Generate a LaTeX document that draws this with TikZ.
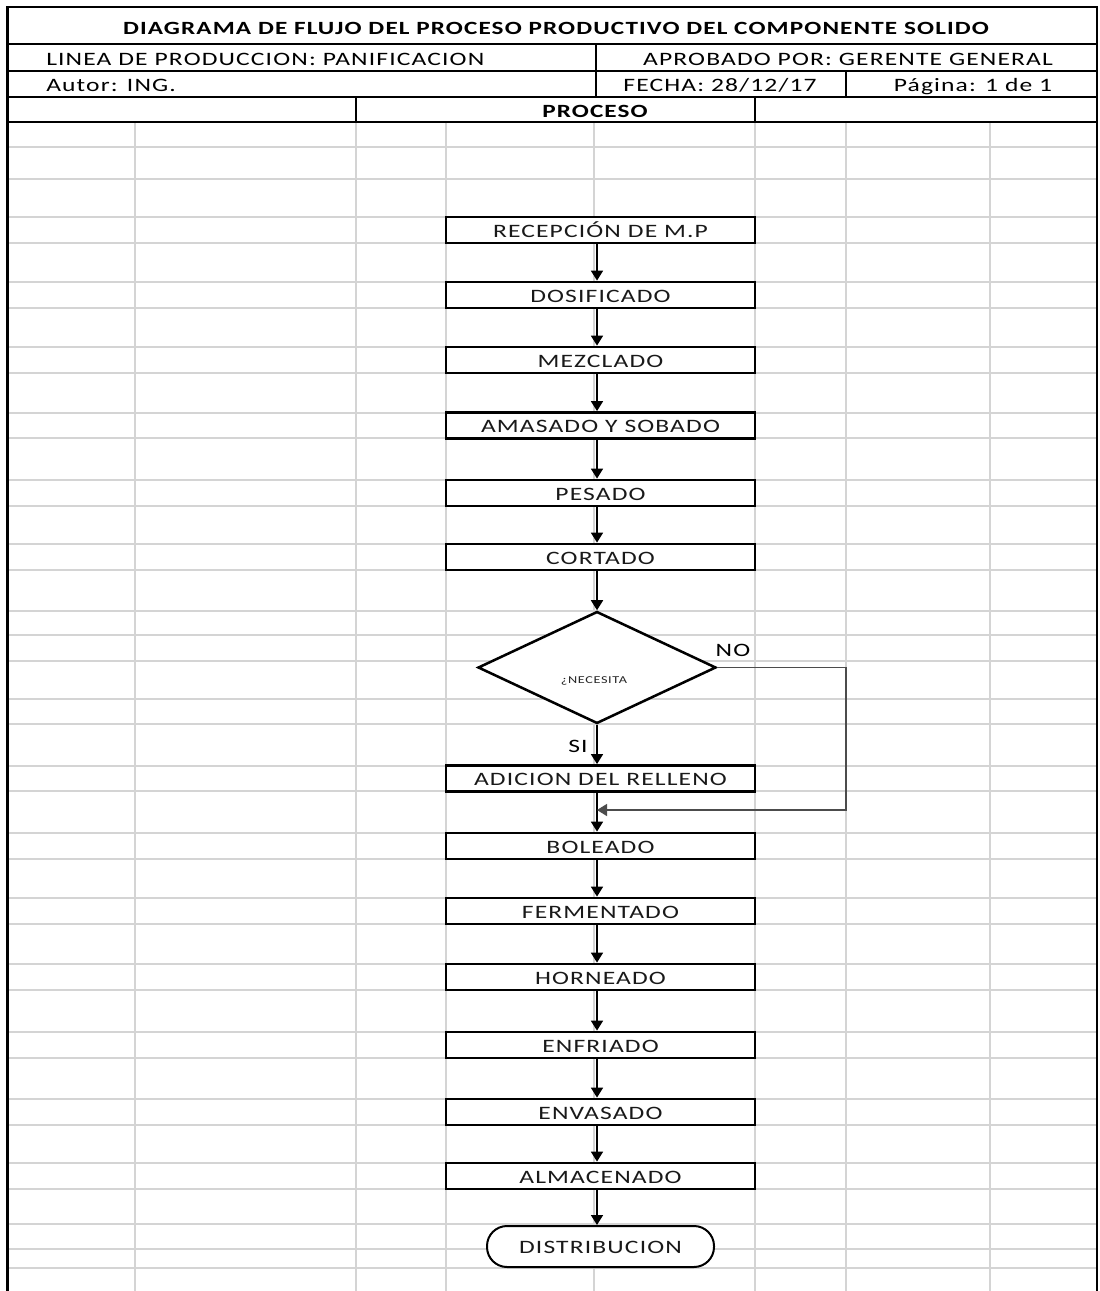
\documentclass[tikz,border=0pt]{standalone}
\usepackage{fontspec}
\setmainfont{Carlito}
\newfontfamily\sheetfont[FakeStretch=1.35,LetterSpace=6]{Carlito}
\newcommand\cellfont{\sheetfont\fontsize{14.2pt}{16pt}\selectfont}
\newcommand\titlefont{\sheetfont\fontsize{14pt}{16pt}\selectfont\bfseries}
\newcommand\tinyfont{\sheetfont\fontsize{7.9pt}{9pt}\selectfont}
\usetikzlibrary{arrows.meta,shapes.geometric}

\tikzset{
  gridline/.style={draw=black!17, line width=1.1pt},
  frameline/.style={draw=black, line width=1.6pt},
  celltext/.style={inner sep=0pt, font=\cellfont, text height=11pt, text depth=0pt},
  stepbox/.style={draw, line width=2.1pt, fill=white, minimum width=231.75pt,
    minimum height=19.5pt, inner sep=0pt, font=\cellfont, text=black!90,
    text height=11pt, text depth=0pt},
  decision/.style={draw, diamond, line width=1.9pt, fill=white,
    minimum width=178.5pt, minimum height=84pt, inner sep=0pt},
  terminal/.style={draw, line width=1.5pt, fill=white, rounded corners=15pt,
    minimum width=170.25pt, minimum height=30.75pt, inner sep=0pt,
    font=\cellfont, text=black!90, text height=11pt, text depth=0pt},
  flow/.style={draw=black, line width=1.3pt, -{Triangle[width=9pt,length=7.5pt]}},
  loopline/.style={draw=black!70, line width=1.1pt, -{Triangle[width=9pt,length=7.5pt]}},
}

\begin{document}
\begin{tikzpicture}[x=0.75pt,y=-0.75pt]
\useasboundingbox (0,0) rectangle (1099,1291);
\fill[white] (0,0) rectangle (1099,1291);

% spreadsheet grid
\foreach \yy in {147,179,217,243,282,308,347,373,413,438,480,506,544,570,611,635,661,
                 699,724,766,791,833,859,898,924,964,990,1032,1058,1099,1125,1163,
                 1189,1224,1249,1268}
  \draw[gridline] (8,\yy) -- (1097,\yy);
\foreach \xx in {135,356,446,594,755,846,990}
  \draw[gridline] (\xx,122) -- (\xx,1291);

% header frame
\draw[frameline] (7.5,1291) -- (7.5,7) -- (1097,7) -- (1097,1291);
\draw[frameline] (7.5,44) -- (1097,44);
\draw[frameline] (7.5,71) -- (1097,71);
\draw[frameline] (7.5,97) -- (1097,97);
\draw[draw=black, line width=2.2pt] (7.5,122) -- (1097,122);
\draw[frameline] (596,44) -- (596,97);
\draw[frameline] (846,71) -- (846,97);
\draw[frameline] (356,97) -- (356,122);
\draw[frameline] (755,97) -- (755,122);

% header texts
\node[celltext, font=\titlefont] (title) at (556,27)
  {DIAGRAMA DE FLUJO DEL PROCESO PRODUCTIVO DEL COMPONENTE SOLIDO};
\node[celltext, anchor=west] (linea) at (46,58.5) {LINEA DE PRODUCCION: PANIFICACION};
\node[celltext] (aprob) at (848,58.5) {APROBADO POR: GERENTE GENERAL};
\node[celltext, anchor=west] (autor) at (46,84.5) {Autor: ING.};
\node[celltext] (fecha) at (720,84.5) {FECHA: 28/12/17};
\node[celltext] (pagina) at (973,84.5) {Página: 1 de 1};
\node[celltext, font=\titlefont] (proceso) at (595,110) {PROCESO};

% flow steps
\coordinate (ax) at (597,0);
\node[stepbox] (b1) at (600.5,230) {RECEPCIÓN DE M.P};
\node[stepbox] (b2) at (600.5,295) {DOSIFICADO};
\node[stepbox] (b3) at (600.5,360) {MEZCLADO};
\node[stepbox] (b4) at (600.5,425.5) {AMASADO Y SOBADO};
\node[stepbox] (b5) at (600.5,493) {PESADO};
\node[stepbox] (b6) at (600.5,557) {CORTADO};
\node[decision] (dec) at (597,667.5) {};
\node[inner sep=0pt, font=\tinyfont, text=black!85] (dectxt) at (594,681) {¿NECESITA};
\node[stepbox] (b7) at (600.5,778.5) {ADICION DEL RELLENO};
\node[stepbox] (b8) at (600.5,846) {BOLEADO};
\node[stepbox] (b9) at (600.5,911) {FERMENTADO};
\node[stepbox] (b10) at (600.5,977) {HORNEADO};
\node[stepbox] (b11) at (600.5,1045) {ENFRIADO};
\node[stepbox] (b12) at (600.5,1112) {ENVASADO};
\node[stepbox] (b13) at (600.5,1176) {ALMACENADO};
\node[terminal] (term) at (600.5,1246.5) {DISTRIBUCION};

% branch labels
\node[celltext] (lblsi) at (578,745) {SI};
\node[celltext] (lblno) at (733,649) {NO};

% connectors
\draw[flow] (b1.south -| ax) -- (b2.north -| ax);
\draw[flow] (b2.south -| ax) -- (b3.north -| ax);
\draw[flow] (b3.south -| ax) -- (b4.north -| ax);
\draw[flow] (b4.south -| ax) -- (b5.north -| ax);
\draw[flow] (b5.south -| ax) -- (b6.north -| ax);
\draw[flow] (b6.south -| ax) -- (dec.north);
\draw[flow] (dec.south) -- (b7.north -| ax);
\draw[flow] (b7.south -| ax) -- (b8.north -| ax);
\draw[flow] (b8.south -| ax) -- (b9.north -| ax);
\draw[flow] (b9.south -| ax) -- (b10.north -| ax);
\draw[flow] (b10.south -| ax) -- (b11.north -| ax);
\draw[flow] (b11.south -| ax) -- (b12.north -| ax);
\draw[flow] (b12.south -| ax) -- (b13.north -| ax);
\draw[flow] (b13.south -| ax) -- (term.north -| ax);

% bypass when no filling is needed
\coordinate (merge) at (597,810);
\coordinate (nocol) at (846,0);
\draw[loopline] (dec.east) -| (nocol |- merge) -- (merge);
\end{tikzpicture}
\end{document}
